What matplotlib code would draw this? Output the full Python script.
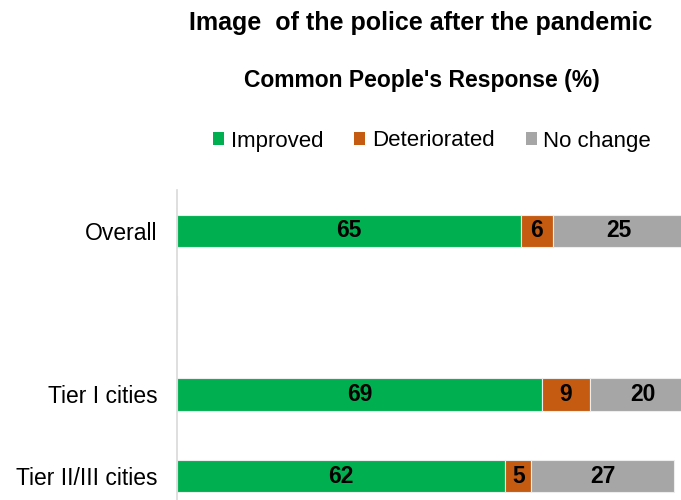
import numpy as np
import matplotlib.pyplot as plt
from matplotlib.patches import Patch

plt.rcParams['font.family'] = ['Liberation Sans', 'DejaVu Sans']

categories = ["Overall", "", "Tier I cities", "Tier II/III cities"]
improved = [65, np.nan, 69, 62]
deteriorated = [6, np.nan, 9, 5]
no_change = [25, np.nan, 20, 27]

series = [("Improved", improved, "#00B050"),
          ("Deteriorated", deteriorated, "#C55A11"),
          ("No change", no_change, "#A6A6A6")]

fig = plt.figure(figsize=(6.81, 5.0), dpi=100)
# axes runs past the right and bottom edges, so the bars get cut off there
ax = fig.add_axes([177 / 681, 1 - 517 / 500, 529 / 681, 327 / 500])

y = np.arange(len(categories))
left = np.zeros(len(categories))
for name, vals, color in series:
    vals = np.array(vals, dtype=float)
    ax.barh(y, np.nan_to_num(vals), left=left, height=0.40, color=color,
            edgecolor="#EDEDED", linewidth=0.8, label=name)
    for yi, (l, v) in enumerate(zip(left, vals)):
        if not np.isnan(v):
            ax.text(l + v / 2, yi, f"{v:.0f}", ha="center", va="center",
                    fontsize=16.5, fontweight="bold", color="black")
    left = left + np.nan_to_num(vals)

ax.set_xlim(0, 100)
ax.set_ylim(len(categories) - 0.5, -0.5)
ax.set_yticks(y)
ax.set_yticklabels(categories, fontsize=16.5)
ax.tick_params(axis="y", length=0, pad=14)
ax.set_xticks([])
for s in ["top", "right", "bottom"]:
    ax.spines[s].set_visible(False)
ax.spines["left"].set_color("#D9D9D9")
ax.spines["left"].set_linewidth(1.2)

fig.text(421 / 681, 1 - 23 / 500, "Image  of the police after the pandemic",
         ha="center", va="center", fontsize=18, fontweight="bold")
fig.text(422 / 681, 1 - 81 / 500, "Common People's Response (%)",
         ha="center", va="center", fontsize=16.5, fontweight="bold")

handles = [Patch(facecolor=c, edgecolor="none") for _, _, c in series]
fig.legend(handles, [n for n, _, _ in series], loc="center",
           bbox_to_anchor=(432 / 681, 1 - 141 / 500), ncol=3, frameon=False,
           fontsize=16, handlelength=0.5, handleheight=0.5, handletextpad=0.3,
           columnspacing=1.4)

fig.savefig("out.png", dpi=100)
